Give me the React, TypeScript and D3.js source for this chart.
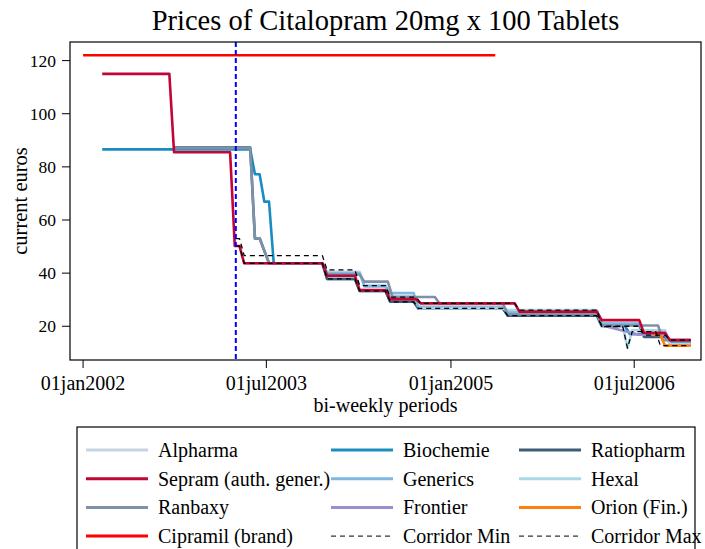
import * as d3 from 'd3';

type Pt = [string, number];

// prices in current euros, vertices of the bi-weekly step series
const alpharma: Pt[] = [
  ['2003-07-23', 43.7], ['2003-12-15', 43.7], ['2003-12-29', 40.5], ['2004-04-04', 40.5],
  ['2004-04-18', 35.5], ['2004-06-20', 35.5], ['2004-07-04', 31.5], ['2004-09-12', 31.5],
  ['2004-09-26', 27.5], ['2005-06-05', 27.5], ['2005-06-19', 25.8], ['2006-03-12', 25.8],
  ['2006-03-26', 21.0], ['2006-07-16', 21.0],
];
const biochemie: Pt[] = [
  ['2002-02-27', 86.6], ['2003-05-14', 86.6], ['2003-05-28', 77.2], ['2003-06-11', 77.2],
  ['2003-06-25', 66.9], ['2003-07-09', 66.9], ['2003-07-23', 43.7], ['2003-12-15', 43.7],
  ['2003-12-29', 37.8], ['2004-03-21', 37.8], ['2004-04-04', 33.3], ['2004-06-20', 33.3],
  ['2004-07-04', 29.2], ['2004-09-12', 29.2], ['2004-09-26', 26.7], ['2005-06-05', 26.7],
  ['2005-06-19', 24.0], ['2006-03-12', 24.0], ['2006-03-26', 20.0], ['2006-06-04', 20.0],
  ['2006-06-18', 17.0], ['2006-10-01', 17.0], ['2006-10-15', 14.0], ['2006-12-16', 14.0],
];
const ratiopharm: Pt[] = [
  ['2002-09-29', 87.3], ['2003-05-14', 87.3], ['2003-05-28', 53.1], ['2003-06-11', 53.1],
  ['2003-07-09', 43.7], ['2003-12-15', 43.7], ['2003-12-29', 37.8], ['2004-03-21', 37.8],
  ['2004-04-04', 33.3], ['2004-06-20', 33.3], ['2004-07-04', 29.2], ['2004-09-12', 29.2],
  ['2004-09-26', 26.7], ['2005-06-05', 26.7], ['2005-06-19', 24.0], ['2006-03-12', 24.0],
  ['2006-03-26', 20.5], ['2006-07-16', 20.5], ['2006-07-30', 16.0], ['2006-10-01', 16.0],
  ['2006-10-15', 14.0], ['2006-12-16', 14.0],
];
const sepram: Pt[] = [
  ['2002-02-27', 115.0], ['2002-09-15', 115.0], ['2002-09-29', 85.5], ['2003-03-15', 85.5],
  ['2003-03-29', 50.2], ['2003-04-12', 50.2], ['2003-04-26', 43.7], ['2003-12-15', 43.7],
  ['2003-12-29', 39.0], ['2004-03-21', 39.0], ['2004-04-04', 33.6], ['2004-06-20', 33.6],
  ['2004-07-04', 30.2], ['2004-09-19', 30.2], ['2004-10-03', 28.6], ['2005-07-10', 28.6],
  ['2005-07-24', 25.5], ['2006-03-12', 25.5], ['2006-03-26', 22.3], ['2006-07-16', 22.3],
  ['2006-07-30', 17.5], ['2006-10-01', 17.5], ['2006-10-15', 14.8], ['2006-12-16', 14.8],
];
const generics: Pt[] = [
  ['2003-04-26', 43.7], ['2003-12-15', 43.7], ['2003-12-29', 40.0], ['2004-04-04', 40.0],
  ['2004-04-18', 35.0], ['2004-06-20', 35.0], ['2004-07-04', 32.5], ['2004-09-12', 32.5],
  ['2004-09-26', 27.0], ['2005-06-05', 27.0], ['2005-06-19', 25.3], ['2006-03-12', 25.3],
  ['2006-03-26', 21.0], ['2006-07-16', 21.0], ['2006-07-30', 17.0], ['2006-10-01', 17.0],
  ['2006-10-15', 13.5], ['2006-12-16', 13.5],
];
const hexal: Pt[] = [
  ['2004-09-26', 26.7], ['2005-06-05', 26.7], ['2005-06-19', 26.1], ['2006-03-12', 26.1],
  ['2006-03-26', 20.0], ['2006-05-28', 20.0], ['2006-06-11', 11.8], ['2006-06-25', 18.5],
  ['2006-10-01', 18.5], ['2006-10-15', 13.2], ['2006-12-16', 13.2],
];
const ranbaxy: Pt[] = [
  ['2002-09-29', 87.0], ['2003-05-14', 87.0], ['2003-05-28', 53.1], ['2003-06-11', 53.1],
  ['2003-07-09', 43.7], ['2003-12-15', 43.7], ['2003-12-29', 39.5], ['2004-04-04', 39.5],
  ['2004-04-18', 36.8], ['2004-06-27', 36.8], ['2004-07-11', 31.0], ['2004-11-14', 31.0],
  ['2004-11-28', 28.6], ['2005-06-05', 28.6], ['2005-06-19', 24.5], ['2006-03-12', 24.5],
  ['2006-03-26', 20.3], ['2006-09-10', 20.3], ['2006-09-24', 14.8], ['2006-12-16', 14.8],
];
const frontier: Pt[] = [
  ['2006-04-09', 19.9], ['2006-07-16', 16.8], ['2006-10-01', 16.8], ['2006-10-15', 14.8],
  ['2006-12-16', 14.8],
];
const orion: Pt[] = [
  ['2006-08-27', 16.7], ['2006-09-17', 16.7], ['2006-10-01', 12.7], ['2006-12-16', 12.7],
];
const cipramil: Pt[] = [['2002-01-01', 122.0], ['2005-05-13', 122.0]];
const corridorMin: Pt[] = [
  ['2003-04-01', 50.2], ['2003-04-12', 50.2], ['2003-04-26', 43.7], ['2003-12-15', 43.7],
  ['2003-12-29', 37.8], ['2004-03-21', 37.8], ['2004-04-04', 33.3], ['2004-06-20', 33.3],
  ['2004-07-04', 29.2], ['2004-09-12', 29.2], ['2004-09-26', 26.7], ['2005-06-05', 26.7],
  ['2005-06-19', 24.0], ['2006-03-12', 24.0], ['2006-03-26', 19.9], ['2006-05-28', 19.9],
  ['2006-06-11', 11.8], ['2006-06-25', 18.0], ['2006-09-03', 18.0], ['2006-09-17', 12.7],
  ['2006-12-16', 12.7],
];
const corridorMax: Pt[] = [
  ['2003-04-01', 53.0], ['2003-04-12', 53.0], ['2003-04-26', 46.6], ['2003-12-15', 46.6],
  ['2003-12-29', 41.2], ['2004-03-21', 41.2], ['2004-04-04', 35.3], ['2004-06-20', 35.3],
  ['2004-07-04', 31.0], ['2004-09-19', 31.0], ['2004-10-03', 28.6], ['2005-07-10', 28.6],
  ['2005-07-24', 26.1], ['2006-03-12', 26.1], ['2006-03-26', 20.0], ['2006-07-16', 20.0],
  ['2006-07-30', 16.7], ['2006-10-01', 16.7], ['2006-10-15', 14.8], ['2006-12-16', 14.8],
];

const yTicks = [20, 40, 60, 80, 100, 120];
const xTicks = ['2002-01-01', '2003-07-01', '2005-01-01', '2006-07-01'];
const xTickLabels = ['01jan2002', '01jul2003', '01jan2005', '01jul2006'];
const reformDate = '2003-04-01';

// legend order (row-major, 3 columns)
const seriesNames = [
  'Alpharma', 'Biochemie', 'Ratiopharm',
  'Sepram (auth. gener.)', 'Generics', 'Hexal',
  'Ranbaxy', 'Frontier', 'Orion (Fin.)',
  'Cipramil (brand)', 'Corridor Min', 'Corridor Max',
];
const seriesData = [
  alpharma, biochemie, ratiopharm, sepram, generics, hexal,
  ranbaxy, frontier, orion, cipramil, corridorMin, corridorMax,
];
const seriesColors = [
  '#c6d3e2', '#1a8dc0', '#3e5c77', '#c10534', '#7db8e2', '#aad8e6',
  '#7d91a9', '#9b8fd2', '#ff7f0e', '#ff0000', '#000000', '#000000',
];
// drawing order: authorised generic on top of the other generics
const drawOrder = [0, 1, 2, 4, 5, 6, 7, 8, 3, 9, 10, 11];

const W = 705;
const H = 549;
const plot = { left: 70, right: 701, top: 42, bottom: 360 };
const font = '"Liberation Serif", "Times New Roman", serif';

const parse = d3.timeParse('%Y-%m-%d');

export default function App() {
  const x = d3.scaleTime()
    .domain([parse('2001-11-23')!, parse('2007-01-16')!])
    .range([plot.left, plot.right]);
  const y = d3.scaleLinear().domain([7.3, 127]).range([plot.bottom, plot.top]);

  const line = d3.line<Pt>()
    .x(d => x(parse(d[0])!))
    .y(d => y(d[1]));

  const isDashed = (name: string) => name.startsWith('Corridor');

  return (
    <svg width={W} height={H} style={{ position: 'absolute', left: 0, top: 0, background: '#fff' }}
      fontFamily={font}>
      <rect x={0} y={0} width={W} height={H} fill="#fff" />
      <text x={(plot.left + plot.right) / 2} y={30} textAnchor="middle" fontSize={28.5}>
        Prices of Citalopram 20mg x 100 Tablets
      </text>

      <g>
        {drawOrder.map(i => (
          <path key={seriesNames[i]} d={line(seriesData[i]) || ''} fill="none"
            stroke={seriesColors[i]}
            strokeWidth={isDashed(seriesNames[i]) ? 1.3 : 2.6}
            strokeDasharray={isDashed(seriesNames[i]) ? '5,4' : undefined}
            strokeLinejoin="round" />
        ))}
      </g>

      <line x1={x(parse(reformDate)!)} x2={x(parse(reformDate)!)} y1={plot.top} y2={plot.bottom}
        stroke="#0000ff" strokeWidth={2} strokeDasharray="5,3" />

      <rect x={plot.left} y={plot.top} width={plot.right - plot.left} height={plot.bottom - plot.top}
        fill="none" stroke="#000" strokeWidth={1.2} />

      {yTicks.map(t => (
        <g key={t}>
          <line x1={plot.left - 8} x2={plot.left} y1={y(t)} y2={y(t)} stroke="#000" />
          <text x={plot.left - 14} y={y(t)} dy="0.35em" textAnchor="end" fontSize={17.5}>{t}</text>
        </g>
      ))}
      <text transform={`translate(27,${(plot.top + plot.bottom) / 2}) rotate(-90)`}
        textAnchor="middle" fontSize={20.5}>current euros</text>

      {xTicks.map((t, i) => (
        <g key={t}>
          <line x1={x(parse(t)!)} x2={x(parse(t)!)} y1={plot.bottom} y2={plot.bottom + 8} stroke="#000" />
          <text x={x(parse(t)!)} y={390} textAnchor="middle" fontSize={20}>{xTickLabels[i]}</text>
        </g>
      ))}
      <text x={(plot.left + plot.right) / 2} y={412} textAnchor="middle" fontSize={20}>bi-weekly periods</text>

      <rect x={77} y={427} width={618} height={140} fill="#fff" stroke="#000" strokeWidth={1.2} />
      {seriesNames.map((name, i) => {
        const col = i % 3;
        const row = Math.floor(i / 3);
        const lx = [86, 331, 519][col];
        const ly = 450 + row * 28.7;
        return (
          <g key={name}>
            <line x1={lx} x2={lx + 62} y1={ly} y2={ly} stroke={seriesColors[i]}
              strokeWidth={isDashed(name) ? 1 : 3}
              strokeDasharray={isDashed(name) ? '5,4' : undefined} />
            <text x={lx + 72} y={ly} dy="0.35em" fontSize={20}>{name}</text>
          </g>
        );
      })}
    </svg>
  );
}
